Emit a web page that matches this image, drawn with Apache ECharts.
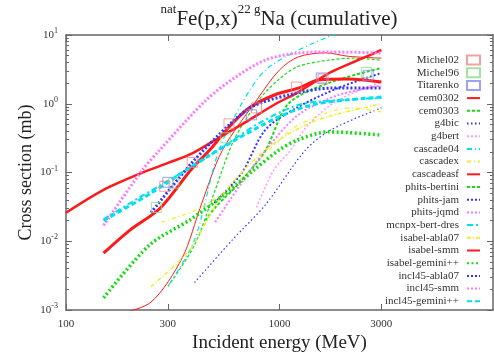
<!DOCTYPE html>
<html>
<head>
<meta charset="utf-8">
<script src="https://cdn.jsdelivr.net/npm/echarts@6/dist/echarts.min.js"></script>
<style>
html, body { margin: 0; padding: 0; background: #fff; }
#chart { width: 494px; height: 358px; }
</style>
</head>
<body>
<div id="chart"></div>
<script>
// experimental points [E (MeV), sigma (mb)]
var michel02 = [[290, 0.063], [390, 0.14], [580, 0.51], [780, 0.87], [1200, 1.75], [1600, 2.3]];
var michel96 = [[265, 0.031], [320, 0.07], [560, 0.32], [2550, 2.85]];
var titarenko = [[300, 0.072], [740, 0.69], [1570, 2.37], [2600, 2.6]];

// model curves
var cem0302 = [[170, 0.00085], [250, 0.0013], [350, 0.0057], [430, 0.034], [540, 0.21], [800, 1.25], [1000, 3.1], [1225, 4.8], [1640, 5.5], [2100, 4.9], [3000, 4.6]];
var cem0303 = [[300, 0.0022], [400, 0.0088], [500, 0.056], [610, 0.29], [800, 1.13], [1000, 2.3], [1225, 3.5], [1700, 4.3], [2200, 4.6], [3000, 4.3]];
var g4bic = [[400, 0.0025], [600, 0.0104], [860, 0.034], [1320, 0.21], [1750, 0.42], [3000, 0.87]];
var g4bert = [[780, 0.031], [940, 0.109], [1125, 0.21], [1360, 0.49], [1880, 1.13], [3000, 2.07]];
var cascade04 = [[305, 0.0024], [400, 0.0104], [520, 0.21], [680, 1.13], [860, 3.1], [1225, 6.0], [1780, 10], [2100, 11.8]];
var cascadex = [[280, 0.019], [420, 0.03], [650, 0.078], [890, 0.21], [1225, 0.49], [2160, 0.87], [3000, 0.76]];
var cascadeasf = [[100, 0.026], [150, 0.056], [225, 0.098], [305, 0.14], [390, 0.19], [520, 0.32], [695, 0.54], [940, 0.96], [1225, 1.48], [1750, 2.9], [2330, 4.3], [3000, 6.05]];
var phitsBertini = [[450, 0.02], [500, 0.031], [650, 0.071], [860, 0.21], [1100, 1.0], [1750, 2.07], [3000, 3.3]];
var phitsJam = [[495, 0.036], [665, 0.098], [860, 0.42], [1225, 0.9], [1880, 1.69], [3000, 2.8]];
var phitsJqmd = [[500, 0.019], [665, 0.071], [860, 0.21], [1225, 0.69], [1880, 1.33], [3000, 1.85]];
var mcnpxBertDres = [[150, 0.021], [220, 0.043], [305, 0.078], [420, 0.14], [580, 0.27], [800, 0.52], [1225, 0.96], [1880, 1.13], [3000, 1.21]];
var isabelAbla07 = [[250, 0.0022], [380, 0.0075], [520, 0.04], [720, 0.129], [1000, 0.3], [1500, 0.58], [3000, 1.0]];
var isabelSmm = [[150, 0.0067], [200, 0.0146], [275, 0.03], [390, 0.115], [470, 0.21], [580, 0.46], [720, 0.87], [940, 1.33], [1225, 1.69], [1520, 2.21], [2100, 2.29], [3000, 2.07]];
var isabelGemini = [[150, 0.0015], [246, 0.0088], [380, 0.0204], [550, 0.047], [760, 0.109], [990, 0.21], [1225, 0.3], [1700, 0.39], [3000, 0.35]];
var incl45Abla07 = [[250, 0.026], [390, 0.14], [580, 0.49], [740, 0.9], [1100, 1.34], [1750, 1.69], [3000, 1.69]];
var incl45Smm = [[150, 0.017], [228, 0.109], [274, 0.21], [453, 1.13], [624, 2.45], [860, 4.33], [1225, 5.48], [1745, 5.66], [3000, 5.48]];
var incl45Gemini = [[150, 0.02], [250, 0.05], [400, 0.13], [600, 0.28], [1000, 0.65], [1500, 1.0], [3000, 1.25]];

// ticks
var xTicks = [100, 300, 1000, 3000];
var yTicks = [0.001, 0.01, 0.1, 1, 10];
var yMinor = [];
for (var d = -3; d < 1; d++) {
    for (var k = 2; k < 10; k++) yMinor.push(k * Math.pow(10, d));
}

var serif = 'Liberation Serif';
var axisColor = '#666';
var RED = '#ff1a1a', GREEN = '#11dd11', BLUE = '#3333ff', MAG = '#ff77ff', CYAN = '#00e0f0', YEL = '#eeee22';

var expSets = [
    { name: 'Michel02', data: michel02, color: '#f08888' },
    { name: 'Michel96', data: michel96, color: '#88dd88' },
    { name: 'Titarenko', data: titarenko, color: '#8888ee' }
];
var models = [
    { name: 'cem0302', data: cem0302, color: RED, w: 1, dash: 'solid' },
    { name: 'cem0303', data: cem0303, color: GREEN, w: 1.2, dash: [3, 2] },
    { name: 'g4bic', data: g4bic, color: BLUE, w: 1.2, dash: [1.5, 2.5] },
    { name: 'g4bert', data: g4bert, color: '#ff99ff', w: 1.5, dash: [2, 2] },
    { name: 'cascade04', data: cascade04, color: CYAN, w: 1.2, dash: [5, 3, 1, 3] },
    { name: 'cascadex', data: cascadex, color: YEL, w: 1.2, dash: [4, 3, 1, 3] },
    { name: 'cascadeasf', data: cascadeasf, color: RED, w: 2.5, dash: 'solid' },
    { name: 'phits-bertini', data: phitsBertini, color: GREEN, w: 2, dash: [3, 2] },
    { name: 'phits-jam', data: phitsJam, color: BLUE, w: 2, dash: [2, 2] },
    { name: 'phits-jqmd', data: phitsJqmd, color: MAG, w: 2, dash: [2, 2] },
    { name: 'mcnpx-bert-dres', data: mcnpxBertDres, color: CYAN, w: 2, dash: [6, 3, 2, 3] },
    { name: 'isabel-abla07', data: isabelAbla07, color: YEL, w: 1.5, dash: [4, 2, 1, 2] },
    { name: 'isabel-smm', data: isabelSmm, color: RED, w: 3, dash: 'solid' },
    { name: 'isabel-gemini++', data: isabelGemini, color: GREEN, w: 3.5, dash: [2, 2.5] },
    { name: 'incl45-abla07', data: incl45Abla07, color: BLUE, w: 3, dash: [2, 2] },
    { name: 'incl45-smm', data: incl45Smm, color: MAG, w: 3, dash: [2, 2] },
    { name: 'incl45-gemini++', data: incl45Gemini, color: CYAN, w: 3, dash: [5, 3] }
];

var series = [];
models.forEach(function (m) {
    series.push({
        name: m.name, type: 'line', data: m.data, symbol: 'none', smooth: 0.3,
        clip: true, silent: true,
        lineStyle: { color: m.color, width: m.w, type: m.dash },
        itemStyle: { color: m.color }
    });
});
expSets.forEach(function (s) {
    series.push({
        name: s.name, type: 'scatter', data: s.data, symbol: 'rect', symbolSize: 10,
        silent: true, z: 5,
        itemStyle: { color: 'rgba(0,0,0,0)', borderColor: s.color, borderWidth: 1 }
    });
});

// legend: squares for data, plain line samples for the models
var legendData = expSets.map(function (s) { return { name: s.name }; })
    .concat(models.map(function (m) { return { name: m.name, itemStyle: { opacity: 0 } }; }));

function logAxis(extra) {
    var base = {
        type: 'log', logBase: 10,
        axisLine: { show: true, onZero: false, lineStyle: { color: axisColor, width: 1.5 } },
        axisTick: { show: true, inside: true, length: 6, lineStyle: { color: axisColor } },
        axisLabel: { show: false },
        splitLine: { show: false },
        minorTick: { show: false }
    };
    return Object.assign(base, extra);
}

var chart = echarts.init(document.getElementById('chart'), null, { renderer: 'canvas' });

var option = {
    animation: false,
    backgroundColor: '#fff',
    title: {
        text: '{sup|nat}{b|Fe(p,x)}{sup|22 g}{b|Na (cumulative)}',
        left: 279, top: 3, textAlign: 'center', padding: 0,
        textStyle: {
            fontWeight: 'normal',
            rich: {
                b: { fontFamily: serif, fontSize: 21, fontWeight: 'normal', color: '#222' },
                sup: { fontFamily: serif, fontSize: 13, fontWeight: 'normal', color: '#222', padding: [0, 0, 20, 0] }
            }
        }
    },
    grid: { left: 66, right: 1, top: 35, bottom: 48, containLabel: false, outerBoundsMode: 'none' },
    legend: {
        orient: 'vertical', align: 'right', right: 13, top: 54, padding: 0,
        itemWidth: 13, itemHeight: 9, itemGap: 0.7,
        selectedMode: false,
        textStyle: { fontFamily: serif, fontSize: 11, color: '#333', lineHeight: 12, padding: [0, 3, 0, 0] },
        data: legendData
    },
    xAxis: [
        logAxis({
            min: 100, max: 10000, position: 'bottom',
            axisTick: { show: true, inside: true, length: 6, customValues: xTicks, lineStyle: { color: axisColor } },
            axisLabel: {
                show: true, customValues: xTicks, margin: 9, fontFamily: serif, fontSize: 11, color: '#333',
                formatter: function (v) { return String(Math.round(v)); }
            },
            name: 'Incident energy (MeV)', nameLocation: 'middle', nameGap: 24, nameMoveOverlap: false,
            nameTextStyle: { fontFamily: serif, fontSize: 19, color: '#222' }
        }),
        logAxis({
            min: 100, max: 10000, position: 'top',
            axisTick: { show: true, inside: true, length: 6, customValues: xTicks, lineStyle: { color: axisColor } }
        })
    ],
    yAxis: [
        logAxis({
            min: 0.001, max: 10, position: 'left',
            axisTick: { show: true, inside: true, length: 6, customValues: yTicks, lineStyle: { color: axisColor } },
            axisLabel: {
                show: true, customValues: yTicks, margin: 8,
                formatter: function (v) {
                    var e = Math.round(Math.log10(v));
                    return '{b|10}{sup|' + e + '}';
                },
                rich: {
                    b: { fontFamily: serif, fontSize: 11, color: '#333' },
                    sup: { fontFamily: serif, fontSize: 8, color: '#333', padding: [0, 0, 8, 0] }
                }
            },
            name: 'Cross section (mb)', nameLocation: 'middle', nameGap: 31, nameMoveOverlap: false,
            nameTextStyle: { fontFamily: serif, fontSize: 18, color: '#222' }
        }),
        logAxis({
            min: 0.001, max: 10, position: 'left',
            axisLine: { show: false },
            axisTick: { show: true, inside: true, length: 3, customValues: yMinor, lineStyle: { color: axisColor } }
        }),
        logAxis({
            min: 0.001, max: 10, position: 'right',
            axisTick: { show: true, inside: true, length: 6, customValues: yTicks, lineStyle: { color: axisColor } }
        }),
        logAxis({
            min: 0.001, max: 10, position: 'right',
            axisLine: { show: false },
            axisTick: { show: true, inside: true, length: 3, customValues: yMinor, lineStyle: { color: axisColor } }
        })
    ],
    series: series
};

chart.setOption(option);
</script>
</body>
</html>
